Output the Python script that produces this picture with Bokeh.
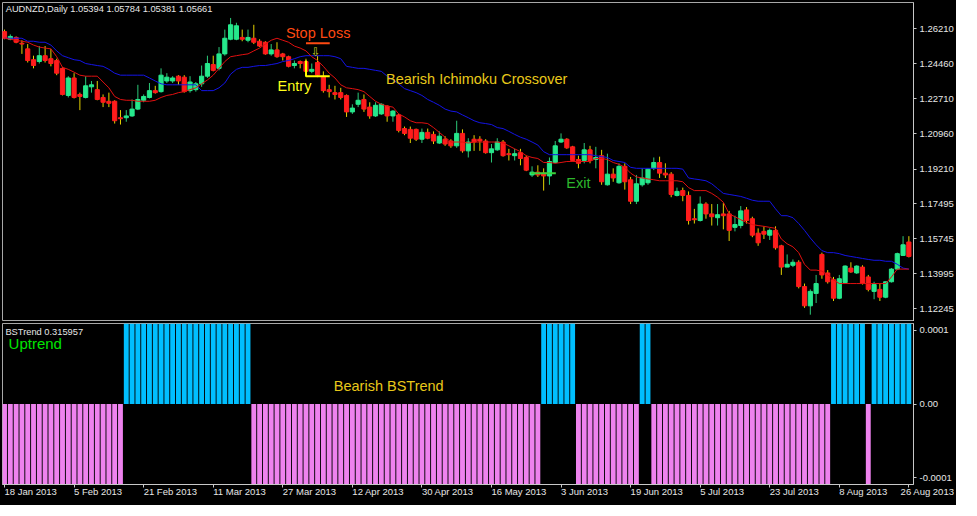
from bokeh.plotting import figure
from bokeh.layouts import column
from bokeh.models import (FixedTicker, PrintfTickFormatter, Label, ColumnDataSource,
                          Range1d)
from bokeh.embed import file_html
from bokeh.resources import INLINE

# ---------------- data ----------------
symbol_title = "AUDNZD,Daily  1.05394 1.05784 1.05381 1.05661"
indicator_title = "BSTrend 0.315957"

date_ticks = [0, 12, 24, 36, 48, 60, 72, 84, 96, 108, 120, 132, 144, 156]
date_labels = ["18 Jan 2013", "5 Feb 2013", "21 Feb 2013", "11 Mar 2013", "27 Mar 2013",
               "12 Apr 2013", "30 Apr 2013", "16 May 2013", "3 Jun 2013", "19 Jun 2013",
               "5 Jul 2013", "23 Jul 2013", "8 Aug 2013", "26 Aug 2013"]
price_ticks = [1.12245, 1.13995, 1.15745, 1.17495, 1.19210, 1.20960, 1.22710, 1.24460, 1.26210]

opens = [1.2606, 1.2568, 1.2577, 1.2548, 1.2520, 1.2466, 1.2457, 1.2486, 1.2471, 1.2462,
         1.2423, 1.2288, 1.2375, 1.2293, 1.2278, 1.2331, 1.2317, 1.2278, 1.2259, 1.2259,
         1.2177, 1.2177, 1.2186, 1.2220, 1.2264, 1.2278, 1.2312, 1.2307, 1.2360, 1.2360,
         1.2384, 1.2379, 1.2312, 1.2317, 1.2346, 1.2384, 1.2442, 1.2423, 1.2495, 1.2568,
         1.2568, 1.2577, 1.2563, 1.2573, 1.2558, 1.2553, 1.2495, 1.2515, 1.2495, 1.2481,
         1.2437, 1.2457, 1.2457, 1.2408, 1.2452, 1.2384, 1.2317, 1.2302, 1.2302, 1.2288,
         1.2206, 1.2244, 1.2268, 1.2230, 1.2186, 1.2196, 1.2235, 1.2186, 1.2191, 1.2123,
         1.2119, 1.2119, 1.2070, 1.2104, 1.2094, 1.2051, 1.2070, 1.2061, 1.2037, 1.2099,
         1.2012, 1.2070, 1.2070, 1.2061, 1.2003, 1.2017, 1.2056, 1.1998, 1.1988, 1.2003,
         1.1979, 1.1892, 1.1906, 1.1901, 1.1887, 1.1954, 1.2056, 1.2070, 1.2032, 1.1969,
         1.1964, 1.2017, 1.1969, 1.1988, 1.1843, 1.1896, 1.1853, 1.1935, 1.1868, 1.1761,
         1.1843, 1.1853, 1.1925, 1.1954, 1.1901, 1.1896, 1.1790, 1.1814, 1.1790, 1.1674,
         1.1665, 1.1747, 1.1698, 1.1679, 1.1698, 1.1698, 1.1631, 1.1640, 1.1718, 1.1674,
         1.1602, 1.1611, 1.1592, 1.1616, 1.1539, 1.1433, 1.1442, 1.1457, 1.1336, 1.1240,
         1.1302, 1.1496, 1.1404, 1.1370, 1.1278, 1.1356, 1.1428, 1.1404, 1.1433, 1.1384,
         1.1312, 1.1322, 1.1283, 1.1360, 1.1423, 1.1491, 1.1558]
highs = [1.2616, 1.2592, 1.2582, 1.2563, 1.2544, 1.2486, 1.2534, 1.2534, 1.2520, 1.2471,
         1.2428, 1.2384, 1.2399, 1.2302, 1.2384, 1.2360, 1.2360, 1.2293, 1.2302, 1.2264,
         1.2215, 1.2215, 1.2268, 1.2341, 1.2293, 1.2350, 1.2336, 1.2423, 1.2399, 1.2384,
         1.2389, 1.2389, 1.2384, 1.2355, 1.2437, 1.2486, 1.2486, 1.2529, 1.2616, 1.2674,
         1.2650, 1.2616, 1.2616, 1.2640, 1.2568, 1.2558, 1.2544, 1.2553, 1.2500, 1.2486,
         1.2462, 1.2462, 1.2471, 1.2447, 1.2486, 1.2408, 1.2341, 1.2336, 1.2326, 1.2293,
         1.2244, 1.2302, 1.2293, 1.2254, 1.2254, 1.2249, 1.2239, 1.2215, 1.2196, 1.2133,
         1.2133, 1.2123, 1.2123, 1.2123, 1.2109, 1.2109, 1.2085, 1.2070, 1.2162, 1.2119,
         1.2075, 1.2090, 1.2085, 1.2070, 1.2046, 1.2075, 1.2066, 1.2022, 1.2022, 1.2022,
         1.1988, 1.1935, 1.1940, 1.1925, 1.1979, 1.2061, 1.2099, 1.2075, 1.2037, 1.1988,
         1.2051, 1.2037, 1.2032, 1.2017, 1.1998, 1.1925, 1.1950, 1.1950, 1.1882, 1.1892,
         1.1925, 1.1925, 1.1979, 1.1983, 1.1950, 1.1906, 1.1829, 1.1829, 1.1810, 1.1723,
         1.1785, 1.1756, 1.1747, 1.1747, 1.1752, 1.1713, 1.1689, 1.1737, 1.1732, 1.1684,
         1.1626, 1.1636, 1.1626, 1.1636, 1.1544, 1.1496, 1.1471, 1.1467, 1.1351, 1.1322,
         1.1394, 1.1505, 1.1418, 1.1384, 1.1394, 1.1442, 1.1457, 1.1442, 1.1442, 1.1394,
         1.1360, 1.1351, 1.1360, 1.1428, 1.1505, 1.1587, 1.1587]
lows = [1.2568, 1.2563, 1.2548, 1.2495, 1.2452, 1.2423, 1.2447, 1.2452, 1.2433, 1.2389,
        1.2288, 1.2278, 1.2273, 1.2215, 1.2273, 1.2302, 1.2264, 1.2230, 1.2230, 1.2148,
        1.2143, 1.2157, 1.2181, 1.2215, 1.2254, 1.2273, 1.2297, 1.2302, 1.2350, 1.2350,
        1.2341, 1.2302, 1.2302, 1.2307, 1.2331, 1.2375, 1.2408, 1.2413, 1.2486, 1.2563,
        1.2563, 1.2558, 1.2553, 1.2544, 1.2529, 1.2491, 1.2486, 1.2476, 1.2462, 1.2428,
        1.2423, 1.2423, 1.2399, 1.2399, 1.2379, 1.2302, 1.2278, 1.2268, 1.2268, 1.2181,
        1.2196, 1.2230, 1.2206, 1.2172, 1.2181, 1.2191, 1.2157, 1.2157, 1.2104, 1.2090,
        1.2051, 1.2061, 1.2051, 1.2070, 1.2046, 1.2046, 1.2037, 1.2027, 1.2027, 1.2003,
        1.1979, 1.2012, 1.2012, 1.1998, 1.1954, 1.2012, 1.1983, 1.1964, 1.1964, 1.1940,
        1.1911, 1.1882, 1.1882, 1.1814, 1.1843, 1.1950, 1.2051, 1.2022, 1.1959, 1.1925,
        1.1950, 1.1950, 1.1925, 1.1843, 1.1839, 1.1858, 1.1848, 1.1819, 1.1747, 1.1747,
        1.1834, 1.1843, 1.1916, 1.1877, 1.1877, 1.1781, 1.1785, 1.1761, 1.1645, 1.1650,
        1.1660, 1.1674, 1.1640, 1.1640, 1.1621, 1.1563, 1.1611, 1.1626, 1.1650, 1.1582,
        1.1539, 1.1573, 1.1568, 1.1520, 1.1394, 1.1433, 1.1433, 1.1327, 1.1230, 1.1196,
        1.1254, 1.1375, 1.1351, 1.1264, 1.1273, 1.1351, 1.1404, 1.1399, 1.1346, 1.1312,
        1.1273, 1.1264, 1.1278, 1.1356, 1.1418, 1.1491, 1.1481]
closes = [1.2573, 1.2582, 1.2553, 1.2544, 1.2462, 1.2437, 1.2486, 1.2462, 1.2447, 1.2399,
          1.2293, 1.2375, 1.2278, 1.2283, 1.2336, 1.2341, 1.2268, 1.2254, 1.2249, 1.2162,
          1.2172, 1.2186, 1.2220, 1.2268, 1.2283, 1.2312, 1.2302, 1.2389, 1.2379, 1.2375,
          1.2360, 1.2307, 1.2355, 1.2346, 1.2384, 1.2447, 1.2413, 1.2495, 1.2573, 1.2640,
          1.2635, 1.2568, 1.2577, 1.2553, 1.2534, 1.2495, 1.2515, 1.2481, 1.2481, 1.2433,
          1.2447, 1.2447, 1.2408, 1.2418, 1.2389, 1.2312, 1.2307, 1.2293, 1.2278, 1.2206,
          1.2225, 1.2264, 1.2220, 1.2186, 1.2239, 1.2244, 1.2186, 1.2210, 1.2114, 1.2099,
          1.2075, 1.2070, 1.2104, 1.2075, 1.2061, 1.2085, 1.2046, 1.2037, 1.2099, 1.2012,
          1.2056, 1.2056, 1.2061, 1.2003, 1.2022, 1.2056, 1.1988, 1.1993, 1.1998, 1.1974,
          1.1916, 1.1906, 1.1892, 1.1887, 1.1959, 1.2037, 1.2070, 1.2027, 1.1964, 1.1950,
          1.2017, 1.1964, 1.1979, 1.1858, 1.1896, 1.1877, 1.1935, 1.1858, 1.1761, 1.1848,
          1.1877, 1.1921, 1.1954, 1.1901, 1.1892, 1.1795, 1.1810, 1.1790, 1.1665, 1.1669,
          1.1747, 1.1698, 1.1684, 1.1694, 1.1689, 1.1616, 1.1645, 1.1713, 1.1665, 1.1592,
          1.1554, 1.1597, 1.1616, 1.1529, 1.1433, 1.1447, 1.1457, 1.1336, 1.1240, 1.1312,
          1.1351, 1.1394, 1.1360, 1.1278, 1.1375, 1.1438, 1.1409, 1.1438, 1.1351, 1.1322,
          1.1346, 1.1283, 1.1360, 1.1423, 1.1500, 1.1544, 1.1486]

tenkan = [1.2573, 1.2568, 1.2563, 1.2558, 1.2553, 1.2539, 1.2529, 1.2524, 1.2520, 1.2481,
          1.2428, 1.2418, 1.2404, 1.2389, 1.2384, 1.2384, 1.2384, 1.2355, 1.2326, 1.2283,
          1.2268, 1.2264, 1.2264, 1.2259, 1.2259, 1.2259, 1.2264, 1.2278, 1.2288, 1.2293,
          1.2302, 1.2307, 1.2317, 1.2326, 1.2346, 1.2365, 1.2389, 1.2423, 1.2457, 1.2481,
          1.2486, 1.2491, 1.2495, 1.2510, 1.2524, 1.2544, 1.2563, 1.2573, 1.2563, 1.2553,
          1.2534, 1.2524, 1.2510, 1.2481, 1.2462, 1.2433, 1.2399, 1.2375, 1.2341, 1.2326,
          1.2322, 1.2317, 1.2307, 1.2283, 1.2259, 1.2244, 1.2235, 1.2230, 1.2196, 1.2181,
          1.2162, 1.2152, 1.2152, 1.2148, 1.2128, 1.2104, 1.2080, 1.2056, 1.2056, 1.2056,
          1.2051, 1.2056, 1.2056, 1.2056, 1.2056, 1.2056, 1.2051, 1.2037, 1.2022, 1.2008,
          1.1988, 1.1979, 1.1974, 1.1954, 1.1954, 1.1950, 1.1954, 1.1959, 1.1959, 1.1959,
          1.1959, 1.1959, 1.1974, 1.1974, 1.1969, 1.1954, 1.1945, 1.1930, 1.1901, 1.1882,
          1.1877, 1.1872, 1.1868, 1.1863, 1.1863, 1.1863, 1.1863, 1.1858, 1.1829, 1.1814,
          1.1814, 1.1814, 1.1800, 1.1781, 1.1756, 1.1698, 1.1684, 1.1669, 1.1655, 1.1645,
          1.1640, 1.1636, 1.1631, 1.1626, 1.1573, 1.1549, 1.1534, 1.1505, 1.1447, 1.1418,
          1.1418, 1.1413, 1.1394, 1.1370, 1.1351, 1.1351, 1.1351, 1.1351, 1.1351, 1.1351,
          1.1351, 1.1351, 1.1351, 1.1384, 1.1423, 1.1423, 1.1423]
kijun = [1.2573, 1.2573, 1.2573, 1.2573, 1.2558, 1.2558, 1.2553, 1.2553, 1.2539, 1.2510,
         1.2486, 1.2476, 1.2466, 1.2462, 1.2447, 1.2442, 1.2437, 1.2433, 1.2418, 1.2399,
         1.2389, 1.2389, 1.2389, 1.2389, 1.2389, 1.2375, 1.2360, 1.2346, 1.2341, 1.2341,
         1.2341, 1.2341, 1.2341, 1.2341, 1.2312, 1.2312, 1.2312, 1.2326, 1.2350, 1.2394,
         1.2418, 1.2428, 1.2428, 1.2433, 1.2437, 1.2437, 1.2442, 1.2447, 1.2457, 1.2462,
         1.2471, 1.2481, 1.2486, 1.2486, 1.2486, 1.2486, 1.2486, 1.2481, 1.2471, 1.2433,
         1.2428, 1.2423, 1.2423, 1.2418, 1.2413, 1.2408, 1.2384, 1.2365, 1.2346, 1.2322,
         1.2312, 1.2302, 1.2288, 1.2268, 1.2254, 1.2239, 1.2220, 1.2210, 1.2206, 1.2191,
         1.2177, 1.2162, 1.2152, 1.2148, 1.2143, 1.2128, 1.2123, 1.2109, 1.2094, 1.2080,
         1.2070, 1.2056, 1.2041, 1.2008, 1.1993, 1.1993, 1.1993, 1.1993, 1.1993, 1.1993,
         1.1993, 1.1993, 1.1988, 1.1983, 1.1979, 1.1964, 1.1959, 1.1954, 1.1930, 1.1925,
         1.1925, 1.1925, 1.1925, 1.1925, 1.1925, 1.1925, 1.1925, 1.1921, 1.1877, 1.1872,
         1.1868, 1.1863, 1.1848, 1.1824, 1.1800, 1.1795, 1.1790, 1.1785, 1.1776, 1.1766,
         1.1761, 1.1761, 1.1761, 1.1723, 1.1689, 1.1689, 1.1679, 1.1650, 1.1616, 1.1578,
         1.1544, 1.1515, 1.1505, 1.1505, 1.1500, 1.1491, 1.1486, 1.1481, 1.1476, 1.1471,
         1.1467, 1.1467, 1.1462, 1.1462, 1.1447, 1.1428, 1.1423]

# BSTrend histogram direction per bar (+1 = uptrend bar, -1 = downtrend bar)
bstrend = [-1, -1, -1, -1, -1, -1, -1, -1, -1, -1, -1, -1, -1, -1, -1, -1, -1, -1, -1, -1,
           -1, 1, 1, 1, 1, 1, 1, 1, 1, 1, 1, 1, 1, 1, 1, 1, 1, 1, 1, 1,
           1, 1, 1, -1, -1, -1, -1, -1, -1, -1, -1, -1, -1, -1, -1, -1, -1, -1, -1, -1,
           -1, -1, -1, -1, -1, -1, -1, -1, -1, -1, -1, -1, -1, -1, -1, -1, -1, -1, -1, -1,
           -1, -1, -1, -1, -1, -1, -1, -1, -1, -1, -1, -1, -1, 1, 1, 1, 1, 1, 1, -1,
           -1, -1, -1, -1, -1, -1, -1, -1, -1, -1, 1, 1, -1, -1, -1, -1, -1, -1, -1, -1,
           -1, -1, -1, -1, -1, -1, -1, -1, -1, -1, -1, -1, -1, -1, -1, -1, -1, -1, -1, -1,
           -1, -1, -1, 1, 1, 1, 1, 1, 1, -1, 1, 1, 1, 1, 1, 1, 1]
bstrend_level = 0.00011

# ---------------- styling ----------------
BG = "black"
AX = "#C8C8C8"
LBL = "#E6E6E6"
BULL = "#26E88C"
BEAR = "#FF1C1C"
BULL_WICK = "#2CC878"
BEAR_WICK = "#E6D200"
FONT = "Liberation Sans"
AXIS_FS = "9.5px"

n = len(opens)
idx = list(range(n))
src = ColumnDataSource(dict(
    x=idx, o=opens, h=highs, l=lows, c=closes,
    top=[max(a, b) for a, b in zip(opens, closes)],
    bot=[min(a, b) for a, b in zip(opens, closes)],
    fill=[BULL if c >= o else BEAR for o, c in zip(opens, closes)],
    wick=[BULL_WICK if c >= o else BEAR_WICK for o, c in zip(opens, closes)],
))

XR = Range1d(-0.35, 156.8)

def style(p):
    p.background_fill_color = BG
    p.border_fill_color = BG
    p.outline_line_color = "#A8A8A8"
    p.grid.visible = False
    for ax in p.yaxis:
        ax.axis_line_color = AX
        ax.major_tick_line_color = AX
        ax.major_tick_in = 0
        ax.major_tick_out = 3
        ax.minor_tick_line_color = None
        ax.major_label_text_color = LBL
        ax.major_label_text_font = FONT
        ax.major_label_text_font_size = AXIS_FS
        ax.major_label_standoff = 3

p1 = figure(frame_width=911, frame_height=319, x_range=XR, y_range=Range1d(1.1162, 1.2751),
            output_backend="svg", toolbar_location=None, x_axis_location=None,
            y_axis_location="right", min_border_left=2, min_border_right=0,
            min_border_top=2, min_border_bottom=0)
style(p1)
p1.yaxis.ticker = FixedTicker(ticks=price_ticks)
p1.yaxis.formatter = PrintfTickFormatter(format="%.5f")

p1.segment("x", "h", "x", "l", source=src, line_color="wick", line_width=1)
p1.vbar(x="x", top="top", bottom="bot", width=0.72, source=src, fill_color="fill",
        line_color="fill", line_width=1)
p1.line(idx, kijun, line_color="#1414E6", line_width=1)
p1.line(idx, tenkan, line_color="#E01010", line_width=1)

# trade annotations
p1.line([52.0, 56.1], [1.2548, 1.2548], line_color="#FF4A12", line_width=2)
p1.line([52.0, 52.0, 56.1], [1.2462, 1.2384, 1.2384], line_color="#FFFF00", line_width=2)
p1.line([90.8, 95.1], [1.1901, 1.1901], line_color="#3BD23B", line_width=2)

def lab(p, x, y, text, color, size, align="left", font=FONT):
    p.add_layout(Label(x=x, y=y, text=text, text_color=color, text_font=font,
                       text_font_size=size, text_align=align, text_baseline="middle"))

lab(p1, 0.2, 1.2717, symbol_title, LBL, "9.3px")
lab(p1, 54.1, 1.2597, "Stop Loss", "#FF4A12", "14.5px", "center")
lab(p1, 53.7, 1.2502, "\u21e9", "#C8C820", "12px", "center", "DejaVu Sans")
lab(p1, 47.1, 1.2336, "Entry", "#FFFF1A", "14.5px")
lab(p1, 65.8, 1.2370, "Bearish Ichimoku Crossover", "#E8C81A", "14.5px")
lab(p1, 96.9, 1.1853, "Exit", "#2DB82D", "14.5px")

p2 = figure(frame_width=911, frame_height=161, x_range=XR,
            y_range=Range1d(-0.0001092, 0.0001092),
            output_backend="svg", toolbar_location=None, x_axis_location="below",
            y_axis_location="right", min_border_left=2, min_border_right=0,
            min_border_top=2, min_border_bottom=0)
style(p2)
p2.yaxis.ticker = FixedTicker(ticks=[-0.0001, 0.0, 0.0001])
p2.yaxis.major_label_overrides = {-0.0001: "-0.0001", 0.0: "0.00", 0.0001: "0.0001"}

xa = p2.xaxis[0]
xa.ticker = FixedTicker(ticks=date_ticks)
xa.major_label_overrides = {t: s for t, s in zip(date_ticks, date_labels)}
xa.axis_line_color = AX
xa.major_tick_line_color = AX
xa.major_tick_in = 0
xa.major_tick_out = 3
xa.minor_tick_line_color = None
xa.major_label_text_color = LBL
xa.major_label_text_font = FONT
xa.major_label_text_font_size = AXIS_FS
xa.major_label_standoff = 4
# a (visually nil) angle makes Bokeh anchor the date at its tick's left, as MT4 does
xa.major_label_orientation = -0.0001

hsrc = ColumnDataSource(dict(
    x=idx,
    v=[s * bstrend_level for s in bstrend],
    col=["#00BFFF" if s > 0 else "#EE82EE" for s in bstrend],
))
p2.vbar(x="x", top="v", bottom=0, width=0.84, source=hsrc, fill_color="col",
        line_color=None)

lab(p2, 0.15, 0.0000974, indicator_title, LBL, "9.3px")
lab(p2, 0.7, 0.0000816, "Uptrend", "#00E600", "15px")
lab(p2, 56.8, 0.000025, "Bearish BSTrend", "#E8C81A", "14.5px")

layout = column(p1, p2, spacing=0, styles={"background-color": "black"})
open("out.html", "w").write(file_html(layout, INLINE))
